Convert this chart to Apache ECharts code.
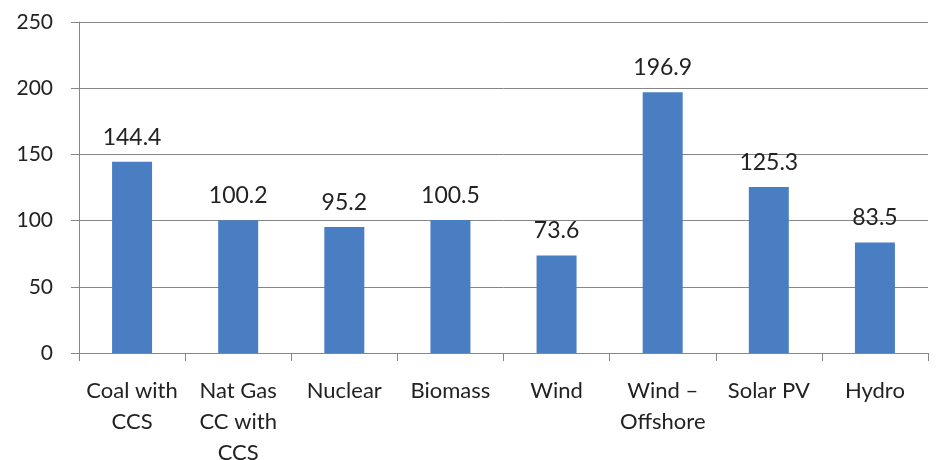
<!DOCTYPE html>
<html>
<head>
<meta charset="utf-8">
<script src="https://cdn.jsdelivr.net/npm/echarts@6/dist/echarts.min.js"></script>
<style>
  html, body { margin: 0; padding: 0; background: #fff; }
  #main { width: 938px; height: 460px; }
</style>
</head>
<body>
<div id="main"></div>
<script>
// categories and values
var categories = ['Coal with\nCCS', 'Nat Gas\nCC with\nCCS', 'Nuclear', 'Biomass', 'Wind', 'Wind –\nOffshore', 'Solar PV', 'Hydro']
var values = [144.4, 100.2, 95.2, 100.5, 73.6, 196.9, 125.3, 83.5]

var myChart = echarts.init(document.getElementById('main'))
var font = 'Lato, "Open Sans", sans-serif'
var option = {
  animation: false,
  grid: {
    left: 79,
    right: 10,
    top: 22,
    bottom: 107,
    containLabel: false,
    outerBoundsMode: 'none' // keep the plot fixed, let the last label run off the bottom
  },
  xAxis: {
    type: 'category',
    data: categories,
    axisLine: { lineStyle: { color: '#868686', width: 1 } },
    axisTick: { show: true, length: 8, alignWithLabel: false, lineStyle: { color: '#868686' } },
    axisLabel: {
      interval: 0,
      color: '#222',
      fontSize: 22,
      fontFamily: font,
      lineHeight: 31,
      margin: 22
    }
  },
  yAxis: {
    type: 'value',
    min: 0,
    max: 250,
    interval: 50,
    axisLine: { show: true, lineStyle: { color: '#868686' } },
    axisTick: { show: true, length: 8, lineStyle: { color: '#868686' } },
    axisLabel: { color: '#222', fontSize: 21, fontFamily: font, margin: 26 },
    splitLine: { lineStyle: { color: '#868686', width: 1 } }
  },
  series: [
    {
      type: 'bar',
      data: values,
      barWidth: 40,
      itemStyle: { color: '#4a7ec2' },
      label: {
        show: true,
        position: 'top',
        distance: 13,
        color: '#222',
        fontSize: 23,
        fontFamily: font
      }
    }
  ]
}
myChart.setOption(option)
</script>
</body>
</html>
